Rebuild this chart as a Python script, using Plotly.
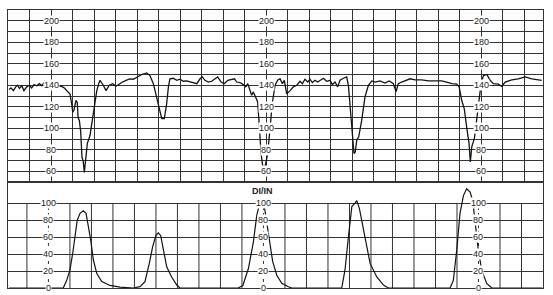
import plotly.graph_objects as go

# ---------------- data ----------------
# Fetal heart rate (bpm) vs time (grid minutes)
fhr_t = [0.05, 0.14, 0.25, 0.36, 0.45, 0.53, 0.64, 0.74, 0.87, 0.99, 1.10, 1.21, 1.33, 1.46, 1.57,
         1.67, 1.80, 1.92, 2.03, 2.14, 2.26, 2.39, 2.54, 2.65, 2.73, 2.88,
         2.96, 3.01, 3.07, 3.16, 3.22, 3.26, 3.32, 3.38, 3.44, 3.50, 3.55, 3.60, 3.69, 3.81, 3.97,
         4.13, 4.22, 4.28, 4.43, 4.56, 4.71, 4.87, 5.02, 5.18, 5.33, 5.49, 5.67, 5.83, 5.99,
         6.22, 6.45, 6.60, 6.76, 6.92, 7.07, 7.15, 7.27, 7.38, 7.46,
         7.53, 7.69, 7.85, 8.00, 8.15, 8.31, 8.47, 8.62, 8.78, 8.93, 9.04, 9.16, 9.32, 9.47, 9.63,
         9.75, 9.91, 10.06, 10.22, 10.37, 10.53, 10.64, 10.79, 10.94, 11.06, 11.15, 11.26, 11.33,
         11.41, 11.52, 11.61, 11.67, 11.77, 11.87, 11.95, 12.08, 12.19, 12.29,
         12.42, 12.54, 12.65, 12.76, 12.85, 12.96, 13.12, 13.27, 13.43, 13.58, 13.69, 13.81, 13.94,
         14.05, 14.15, 14.28, 14.40, 14.56, 14.67, 14.82, 14.98, 15.08, 15.21, 15.33, 15.44, 15.60,
         15.75, 15.83, 15.87, 15.95, 16.03, 16.09, 16.15, 16.22, 16.31, 16.45, 16.60,
         16.76, 16.92, 17.07, 17.30, 17.53, 17.73, 17.92, 18.05, 18.15, 18.31, 18.54, 18.70, 18.93,
         19.24, 19.55, 19.86, 20.17, 20.40, 20.64, 20.87, 20.98, 21.10, 21.22, 21.33, 21.44, 21.50,
         21.57, 21.69, 21.80, 21.91, 22.00, 22.11, 22.27, 22.42, 22.57, 22.80, 22.96, 23.12, 23.43,
         23.73, 24.05, 24.36, 24.67, 24.82]
fhr_v = [136, 137.5, 135, 138.5, 140, 137, 139.5, 135, 138.5, 140, 137.5, 140.6, 139.5, 141.5, 139.5,
         142.5, 140.6, 143, 139.5, 140.6, 137.5, 139.5, 138.5, 137, 135, 132,
         123, 115, 117, 126, 124, 110, 107, 97, 73, 69, 59, 70, 86, 93, 114,
         135, 141.5, 144.6, 140, 135, 140, 141.5, 139, 141.5, 143, 144.6, 146, 145.6, 147.7,
         150, 151.5, 149, 141.5, 129, 118, 109, 109, 123, 138.5,
         146, 146.5, 144.6, 145.6, 143.7, 144, 143, 142.5, 141.5, 146, 147.7, 144.6, 143, 143.7, 145.6,
         147.7, 143, 141.5, 144.6, 145.6, 146, 143, 142.5, 140.6, 138.5, 141.5, 135, 130.7,
         133.8, 129, 124.5, 107.5, 76.5, 61, 64, 76.5, 101, 123,
         140, 144.6, 146, 141.5, 144.6, 132, 135, 138.5, 140, 143.7, 141.5, 145.6, 143,
         145.6, 142.5, 144.6, 143, 145.6, 146.5, 143.7, 144.6, 140.6, 143, 138.5, 144.6, 146.5,
         147.7, 140, 129, 107.5, 92, 76.5, 78, 89, 92, 107.5, 129,
         140, 144, 143, 144, 142, 144, 141.5, 134, 141.5, 143, 145, 146, 145,
         145, 144, 144, 144, 143, 141.5, 141, 138.5, 126, 118, 101, 86, 68.6,
         83, 90.5, 107.5, 126, 141.5, 149, 150, 144.6, 141.5, 141, 139, 143, 145,
         146, 147.7, 146, 145, 144.6]

# Uterine activity vs time
ua_t = [0.05, 2.57, 2.73, 2.88, 3.01, 3.12, 3.22, 3.35, 3.50, 3.63, 3.73, 3.85, 3.97, 4.13, 4.36,
        4.74, 5.21, 5.83, 6.14, 6.37, 6.57, 6.73, 6.88, 6.99, 7.10, 7.22, 7.38, 7.61, 7.85, 8.00,
        10.70, 10.92, 11.18, 11.41, 11.57, 11.69, 11.80, 11.91, 12.03, 12.15, 12.31, 12.50, 12.73,
        13.04, 13.20, 15.52, 15.67, 15.83, 15.99, 16.14, 16.22, 16.34, 16.50, 16.68, 16.84, 17.15,
        17.46, 17.69, 20.56, 20.71, 20.87, 21.02, 21.18, 21.33, 21.49, 21.61, 21.72, 21.87, 22.03,
        22.26, 22.50, 24.86]
ua_v = [0, 0, 9, 21, 41, 60, 80, 88, 91, 88, 74, 56, 33, 17, 7.5,
        3, 1, 0, 1.6, 7.5, 29, 49, 62, 65, 62, 45, 25, 13, 3.5, 0,
        0, 3, 23, 54, 86, 98, 101, 98, 78, 54, 31, 15, 5.5,
        1.5, 0, 0, 21, 60, 96, 100, 103, 94, 72, 49, 29, 13,
        3.5, 0, 0, 9, 45, 88, 109, 117, 113, 103, 80, 45, 21,
        5.5, 0, 0]

fhr_labels = [200, 180, 160, 140, 120, 100, 80, 60]
ua_labels = [100, 80, 60, 40, 20, 0]
fhr_label_cols = [2, 12, 22]
ua_label_cols = [1.88, 11.88, 21.88]
ua_unit = "DI/IN"

# ---------------- figure ----------------
GRID = "#333333"
INK = "#141414"
XMAX = 24.88
UA_GRID0 = -0.12

fig = go.Figure()
fig.add_trace(go.Scatter(x=fhr_t, y=fhr_v, mode="lines", xaxis="x", yaxis="y",
                         line=dict(color=INK, width=1.3), showlegend=False, hoverinfo="skip"))
fig.add_trace(go.Scatter(x=ua_t, y=ua_v, mode="lines", xaxis="x2", yaxis="y2",
                         line=dict(color=INK, width=1.2), showlegend=False, hoverinfo="skip"))

axis_common = dict(showticklabels=False, ticks="", zeroline=False, showline=True, mirror=True,
                   linecolor=GRID, linewidth=1.3, gridcolor=GRID, gridwidth=1)

split = 106 / 278
fig.update_layout(
    width=553, height=295,
    margin=dict(l=8, r=10, t=10, b=7),
    paper_bgcolor="white", plot_bgcolor="white",
    xaxis=dict(range=[0, XMAX], domain=[0, 1], anchor="y", tick0=0, dtick=1, showgrid=True,
               **axis_common),
    yaxis=dict(range=[50, 210], domain=[split, 1], anchor="x", tick0=50, dtick=10, showgrid=True,
               **axis_common),
    xaxis2=dict(range=[0, XMAX], domain=[0, 1], anchor="y2", showgrid=False, **axis_common),
    yaxis2=dict(range=[0, 125], domain=[0, split], anchor="x2", tickvals=[0, 20, 40, 60, 80, 100],
                showgrid=True, **axis_common),
)

# vertical grid of the uterine-activity strip: only up to 100, dashed at the label columns
shapes = []
for k in range(1, 26):
    gx = UA_GRID0 + k
    if gx >= XMAX:
        break
    is_label_col = any(abs(gx - c) < 0.01 for c in ua_label_cols)
    shapes.append(dict(type="line", xref="x2", yref="y2", x0=gx, x1=gx, y0=0, y1=100,
                       line=dict(color=GRID, width=1, dash="3px,3px" if is_label_col else "solid"),
                       layer="below"))
fig.update_layout(shapes=shapes)

annotations = []
lab_font = dict(family="Liberation Sans, Arial, sans-serif", size=9, color="#222")
for c in fhr_label_cols:
    for v in fhr_labels:
        annotations.append(dict(x=c, y=v, xref="x", yref="y", text=str(v), showarrow=False,
                                bgcolor="white", borderpad=0, font=lab_font))
for c in ua_label_cols:
    for v in ua_labels:
        annotations.append(dict(x=c, y=v, xref="x2", yref="y2", text=str(v), showarrow=False,
                                bgcolor="white", borderpad=0, font=lab_font))
annotations.append(dict(x=11.85, y=114, xref="x2", yref="y2", text="<b>" + ua_unit + "</b>",
                        showarrow=False, font=dict(family="Liberation Sans, Arial, sans-serif",
                                                   size=9, color="#222")))
fig.update_layout(annotations=annotations)

fig.write_html("out.html")
